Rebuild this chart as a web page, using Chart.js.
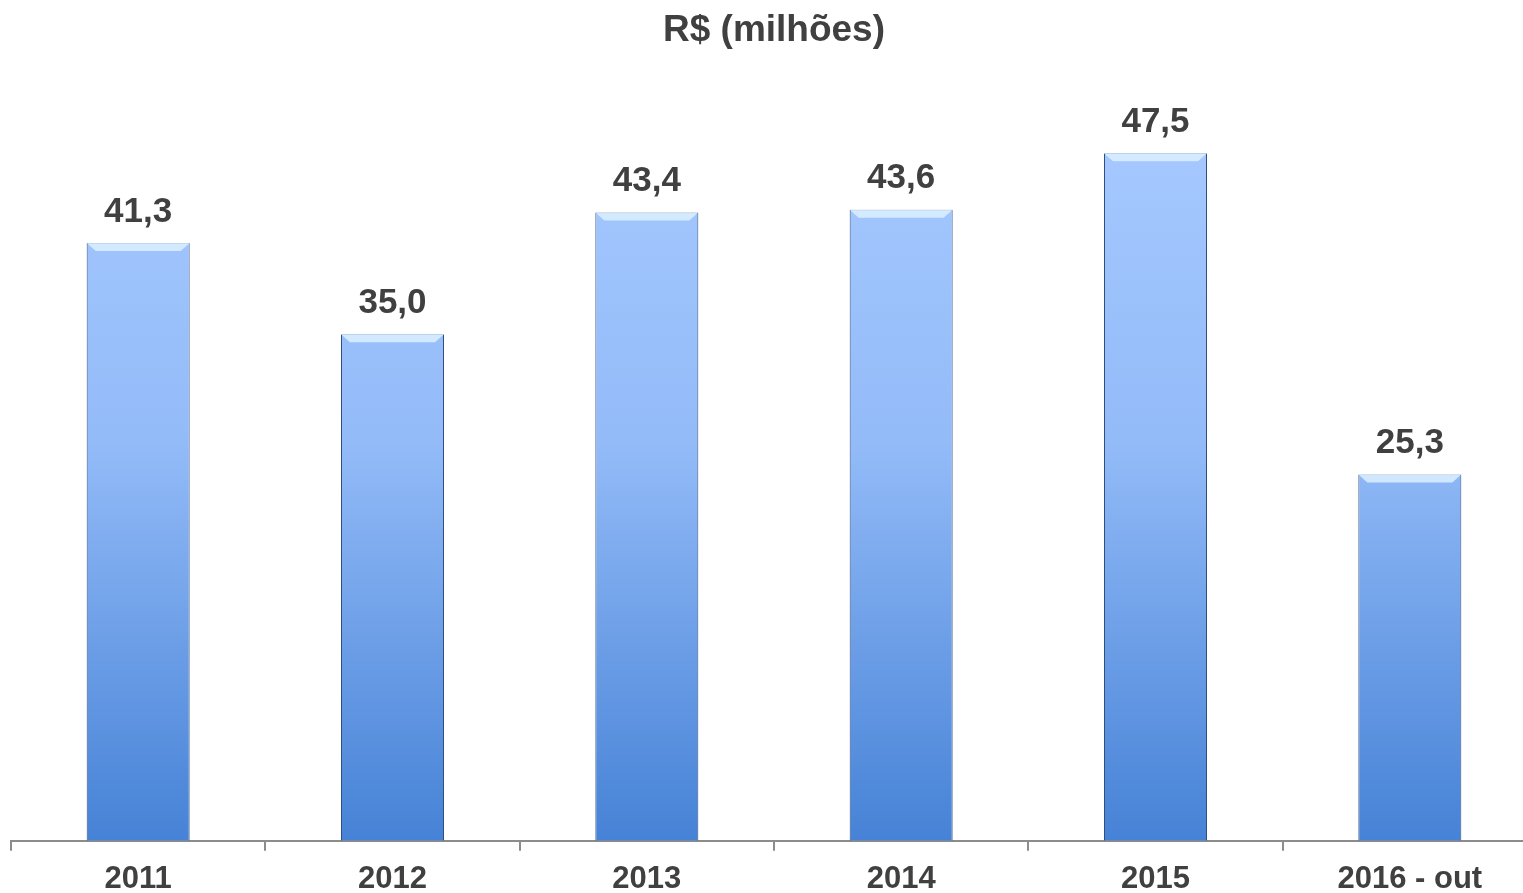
<!DOCTYPE html>
<html>
<head>
<meta charset="utf-8">
<script src="https://cdn.jsdelivr.net/npm/chart.js@4/dist/chart.umd.min.js"></script>
<style>
body{margin:0;overflow:hidden;background:#fff}
#wrap{width:1540px;height:908px}
</style>
</head>
<body>
<div id="wrap"><canvas id="myGraph" width="1540" height="908"></canvas></div>
<script>
const years=['2011','2012','2013','2014','2015','2016 - out']
const receita=[41.3,35.0,43.4,43.6,47.5,25.3]
const chartTitle='R$ (milhões)'

function barGradient(context){
    const chart=context.chart
    const area=chart.chartArea
    if(!area) return '#7fa9e8'
    const g=chart.ctx.createLinearGradient(0,area.top,0,area.bottom)
    g.addColorStop(0,'#a6c9ff')
    g.addColorStop(0.45,'#93bbf8')
    g.addColorStop(1,'#4682d6')
    return g
}

// values over the bars, comma as decimal mark
const valueLabels={
    id:'valueLabels',
    afterDatasetsDraw(chart){
        const ctx=chart.ctx
        const meta=chart.getDatasetMeta(0)
        ctx.save()
        ctx.font='bold 35px "Liberation Sans", Arial, sans-serif'
        ctx.textAlign='center'
        ctx.textBaseline='middle'
        meta.data.forEach(function(bar,i){
            // bevel highlight at top of bar
            const w=bar.width
            ctx.fillStyle='rgba(220,240,255,0.85)'
            ctx.beginPath()
            ctx.moveTo(bar.x-w/2,bar.y)
            ctx.lineTo(bar.x+w/2,bar.y)
            ctx.lineTo(bar.x+w/2-9,bar.y+8)
            ctx.lineTo(bar.x-w/2+9,bar.y+8)
            ctx.closePath()
            ctx.fill()
            ctx.fillStyle='#404040'
            ctx.fillText(receita[i].toFixed(1).replace('.',','),bar.x,bar.y-31)
        })
        ctx.restore()
    }
}

let chart=new Chart(document.getElementById('myGraph').getContext('2d'),{
    type:'bar',
    data:{
        labels:years,
        datasets:[{
            data:receita,
            backgroundColor:barGradient,
            borderColor:'#2e4f80',
            borderWidth:1,
            barPercentage:0.405,
            categoryPercentage:1
        }]
    },
    plugins:[valueLabels],
    options:{
        responsive:false,
        animation:false,
        layout:{padding:{left:11,right:3,top:0,bottom:0}},
        plugins:{
            legend:{display:false},
            tooltip:{enabled:false},
            title:{
                display:true,
                text:chartTitle,
                color:'#404040',
                font:{family:'"Liberation Sans", Arial, sans-serif',size:37,weight:'bold'},
                padding:{top:9,bottom:63.6}
            }
        },
        scales:{
            x:{
                border:{color:'#8c8c8c',width:2},
                grid:{display:true,drawOnChartArea:false,color:'#8c8c8c',lineWidth:2,tickLength:10,offset:true},
                ticks:{
                    color:'#404040',
                    padding:10,
                    font:{family:'"Liberation Sans", Arial, sans-serif',size:31,weight:'bold'}
                }
            },
            y:{
                display:false,
                min:0,
                max:50
            }
        }
    }
})
</script>
</body>
</html>
